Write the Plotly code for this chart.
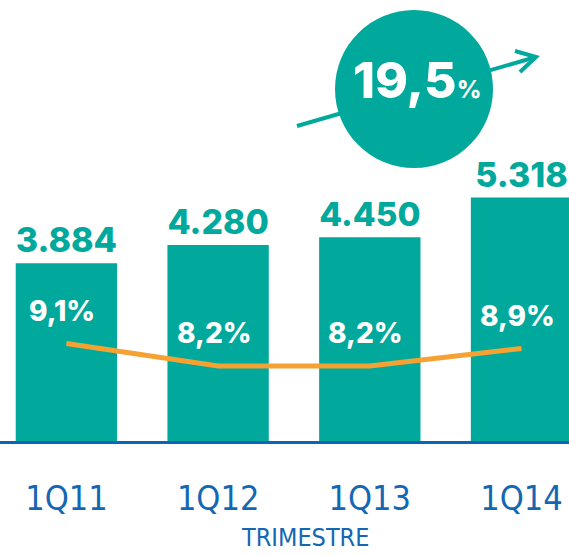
import plotly.graph_objects as go

# ---- data ----
quarters = ["1Q11", "1Q12", "1Q13", "1Q14"]
volumes = [3884, 4280, 4450, 5318]
volume_labels = ["3.884", "4.280", "4.450", "5.318"]
margins = [9.1, 8.2, 8.2, 8.9]
margin_labels = ["9,1%", "8,2%", "8,2%", "8,9%"]
growth_label = "19,5"
axis_title = "TRIMESTRE"

TEAL = "#00A99C"
ORANGE = "#F5A233"
BLUE = "#1467B3"
BOLD_FONT = "Inter, Liberation Sans, Arial, sans-serif"
NARROW_FONT = "Liberation Sans Narrow, DejaVu Sans Condensed, Arial Narrow, sans-serif"

W, H = 569, 555
PLOT_H = 441  # plot area height (top margin 0)

def px(x):
    return x / W

def py(y):
    return 1 - y / PLOT_H

fig = go.Figure()

fig.add_trace(go.Bar(
    x=quarters, y=volumes,
    marker=dict(color=TEAL, line=dict(width=0)),
    text=volume_labels, textposition="outside",
    textfont=dict(family=BOLD_FONT, size=34, color=TEAL, weight=800),
    cliponaxis=False, hoverinfo="skip", showlegend=False,
))

fig.add_trace(go.Scatter(
    x=quarters, y=margins, yaxis="y2", mode="lines",
    line=dict(color=ORANGE, width=5),
    hoverinfo="skip", showlegend=False, cliponaxis=False,
))

annotations = []
for q, m, lab in zip(quarters, margins, margin_labels):
    annotations.append(dict(
        x=q, y=m, xref="x", yref="y2", text=lab, showarrow=False,
        yshift=33, xshift=-4,
        font=dict(family=BOLD_FONT, size=28, color="white", weight=800),
    ))

# growth bubble text
annotations.append(dict(
    x=px(417), y=py(80), xref="paper", yref="paper", showarrow=False,
    text=growth_label + "<span style='font-size:24px'>%</span>",
    font=dict(family=BOLD_FONT, size=50, color="white", weight=800),
    xanchor="center", yanchor="middle",
))

# axis title
annotations.append(dict(
    x=px(305), y=py(554), xref="paper", yref="paper", showarrow=False,
    text=axis_title, xanchor="center", yanchor="bottom",
    font=dict(family=NARROW_FONT, size=25, color=BLUE),
))

shapes = [
    # arrow shaft + chevron (behind bubble)
    dict(type="path", xref="paper", yref="paper",
         path=f"M {px(297)} {py(126)} L {px(536)} {py(57)}",
         line=dict(color=TEAL, width=4), layer="above"),
    dict(type="path", xref="paper", yref="paper",
         path=f"M {px(515)} {py(51)} L {px(536)} {py(57)} L {px(520)} {py(72)}",
         line=dict(color=TEAL, width=4), layer="above"),
    # bubble
    dict(type="circle", xref="paper", yref="paper",
         x0=px(335), x1=px(493), y0=py(168), y1=py(10),
         fillcolor=TEAL, line=dict(width=0), layer="above"),
]

fig.update_layout(
    width=W, height=H,
    margin=dict(l=0, r=0, t=0, b=H - PLOT_H, pad=0),
    paper_bgcolor="white", plot_bgcolor="white",
    bargap=0.332,
    xaxis=dict(
        range=[-0.4377, 3.313], showgrid=False, zeroline=False,
        showline=True, linecolor="#0A64B8", linewidth=3,
        ticks="", tickfont=dict(family=NARROW_FONT, size=34, color=BLUE),
        ticklabelstandoff=25, fixedrange=True,
    ),
    yaxis=dict(range=[0, PLOT_H * 21.85], visible=False, fixedrange=True),
    yaxis2=dict(range=[5.2, 5.2 + PLOT_H / 25.0], overlaying="y", side="right",
                visible=False, fixedrange=True),
    annotations=annotations,
    shapes=shapes,
    showlegend=False,
)

fig.write_html(
    "out.html",
    config={"displayModeBar": False},
    post_script="document.body.style.margin='0';document.body.style.overflow='hidden';",
)
